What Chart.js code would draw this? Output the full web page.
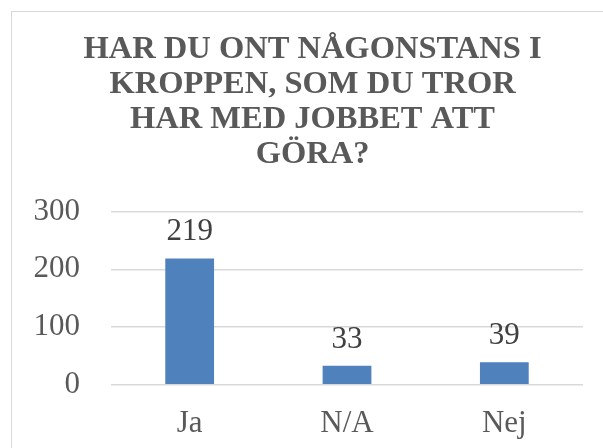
<!DOCTYPE html>
<html>
<head>
<meta charset="utf-8">
<script src="https://cdn.jsdelivr.net/npm/chart.js@4"></script>
<style>
  html, body { margin: 0; padding: 0; background: #fff; overflow: hidden; }
  #wrap { position: relative; width: 603px; height: 448px; }
  #frame { position: absolute; left: 11px; top: 11px; width: 700px; height: 600px;
           border-left: 1px solid #d9d9d9; border-top: 1px solid #d9d9d9; }
  #chart { position: absolute; left: 0; top: 0; }
</style>
</head>
<body>
<div id="wrap">
  <div id="frame"></div>
  <canvas id="chart" width="603" height="448"></canvas>
</div>
<script>
// data
const titleLines = ['HAR DU ONT NÅGONSTANS I', 'KROPPEN, SOM DU TROR', 'HAR MED JOBBET ATT', 'GÖRA?'];
const categories = ['Ja', 'N/A', 'Nej'];
const answers = [219, 33, 39];
const yTicks = [0, 100, 200, 300];

const serif = '"Liberation Serif", serif';
Chart.defaults.font.family = serif;

// value labels above each bar
const barLabels = {
  id: 'barLabels',
  afterDatasetsDraw(chart) {
    const ctx = chart.ctx;
    const meta = chart.getDatasetMeta(0);
    ctx.save();
    ctx.font = '31px ' + serif;
    ctx.fillStyle = '#404040';
    ctx.textAlign = 'center';
    ctx.textBaseline = 'alphabetic';
    meta.data.forEach((bar, i) => {
      ctx.fillText(String(answers[i]), bar.x, bar.y - 18);
    });
    ctx.restore();
  }
};

const ctx = document.getElementById('chart').getContext('2d');
const chart = new Chart(ctx, {
  type: 'bar',
  data: {
    labels: categories,
    datasets: [{
      data: answers,
      backgroundColor: '#4f81bd',
      borderWidth: 0,
      barPercentage: 0.31,
      categoryPercentage: 1
    }]
  },
  options: {
    responsive: false,
    animation: false,
    layout: { padding: { left: 22, right: 0, top: 0, bottom: 7 } },
    plugins: {
      legend: { display: false },
      tooltip: { enabled: false },
      title: {
        display: true,
        text: titleLines,
        color: '#595959',
        font: { family: serif, size: 32.5, weight: 'bold', lineHeight: 1.086 },
        padding: { top: 31.5, bottom: 39 }
      }
    },
    scales: {
      x: {
        grid: { display: false },
        border: { display: false },
        afterFit(scale) { scale.height = 56.3; },
        ticks: {
          color: '#595959',
          padding: 12.5,
          font: { family: serif, size: 31 }
        }
      },
      y: {
        min: 0,
        max: 300,
        afterBuildTicks(scale) {
          scale.ticks = yTicks.map(v => ({ value: v }));
        },
        afterFit(scale) { scale.width = 89; },
        grid: { color: '#d9d9d9', lineWidth: 1.5, drawTicks: false },
        border: { display: false },
        ticks: {
          color: '#595959',
          padding: 31,
          font: { family: serif, size: 31 }
        }
      },
      // empty right margin so the title centres like the original
      yRight: {
        position: 'right',
        grid: { display: false },
        border: { display: false },
        ticks: { display: false },
        afterFit(scale) { scale.width = 20; }
      }
    }
  },
  plugins: [barLabels]
});
</script>
</body>
</html>
